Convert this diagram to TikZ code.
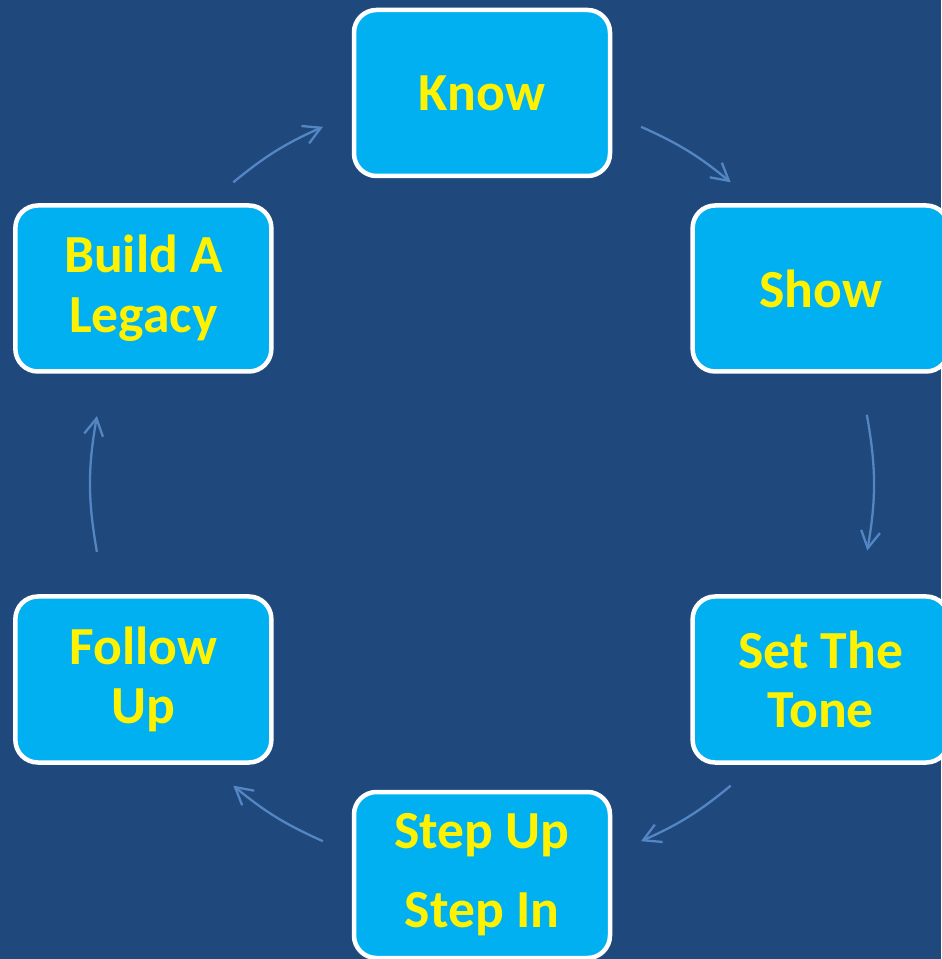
\documentclass[tikz,border=0pt]{standalone}
\usepackage{fontspec}
\setmainfont{Carlito}
\usetikzlibrary{arrows.meta}

\definecolor{bgblue}{RGB}{31,73,125}
\definecolor{boxcyan}{RGB}{0,176,240}
\definecolor{arrowblue}{RGB}{84,134,196}

\begin{document}
\begin{tikzpicture}[
  align=center,
  font=\fontsize{30.5}{34}\selectfont\bfseries,
  % Estilos de bloques
  stepbox/.style={draw=white, line width=0.09cm, rectangle, rounded corners=0.45cm,
    minimum width=5.12cm, minimum height=3.32cm, fill=boxcyan, text=yellow},
  % Estilos de flechas
  cycline/.style={draw=arrowblue, line width=1.3pt, -{Straight Barb[length=3.4mm, width=3.8mm]}}
]

  % ==========================================
  % BACKGROUND
  % ==========================================
  \fill[bgblue] (-9.64,-9.5) rectangle (9.18,9.68);
  \useasboundingbox (-9.64,-9.5) rectangle (9.18,9.68);

  % ==========================================
  % CYCLE BLOCKS
  % ==========================================
  \node[stepbox] (know)   at (90:7.82)   {Know};
  \node[stepbox] (show)   at (30:7.82)   {Show};
  \node[stepbox] (tone)   at (-30:7.82)  {Set The\\Tone};
  \node[stepbox] (stepup) at (-90:7.82)  {Step Up\\[11pt]Step In};
  \node[stepbox] (follow) at (-150:7.82) {Follow\\Up};
  \node[stepbox] (legacy) at (150:7.82)  {Build A\\Legacy};

  % ==========================================
  % ARROW END POINTS
  % ==========================================
  \coordinate (know-out)   at (66:7.82);
  \coordinate (show-in)    at (50.5:7.82);
  \coordinate (show-out)   at (10.2:7.82);
  \coordinate (tone-in)    at (-9.8:7.82);
  \coordinate (tone-out)   at (-50.5:7.82);
  \coordinate (stepup-in)  at (-66:7.82);
  \coordinate (stepup-out) at (-114:7.82);
  \coordinate (follow-in)  at (-129.5:7.82);
  \coordinate (follow-out) at (-170:7.82);
  \coordinate (legacy-in)  at (170:7.82);
  \coordinate (legacy-out) at (129.5:7.82);
  \coordinate (know-in)    at (114:7.82);

  % ==========================================
  % CYCLE ARROWS
  % ==========================================
  \draw[cycline] (know-out)   to[bend left=7.75] (show-in);
  \draw[cycline] (show-out)   to[bend left=10]   (tone-in);
  \draw[cycline] (tone-out)   to[bend left=7.75] (stepup-in);
  \draw[cycline] (stepup-out) to[bend left=7.75] (follow-in);
  \draw[cycline] (follow-out) to[bend left=10]   (legacy-in);
  \draw[cycline] (legacy-out) to[bend left=7.75] (know-in);

\end{tikzpicture}
\end{document}
